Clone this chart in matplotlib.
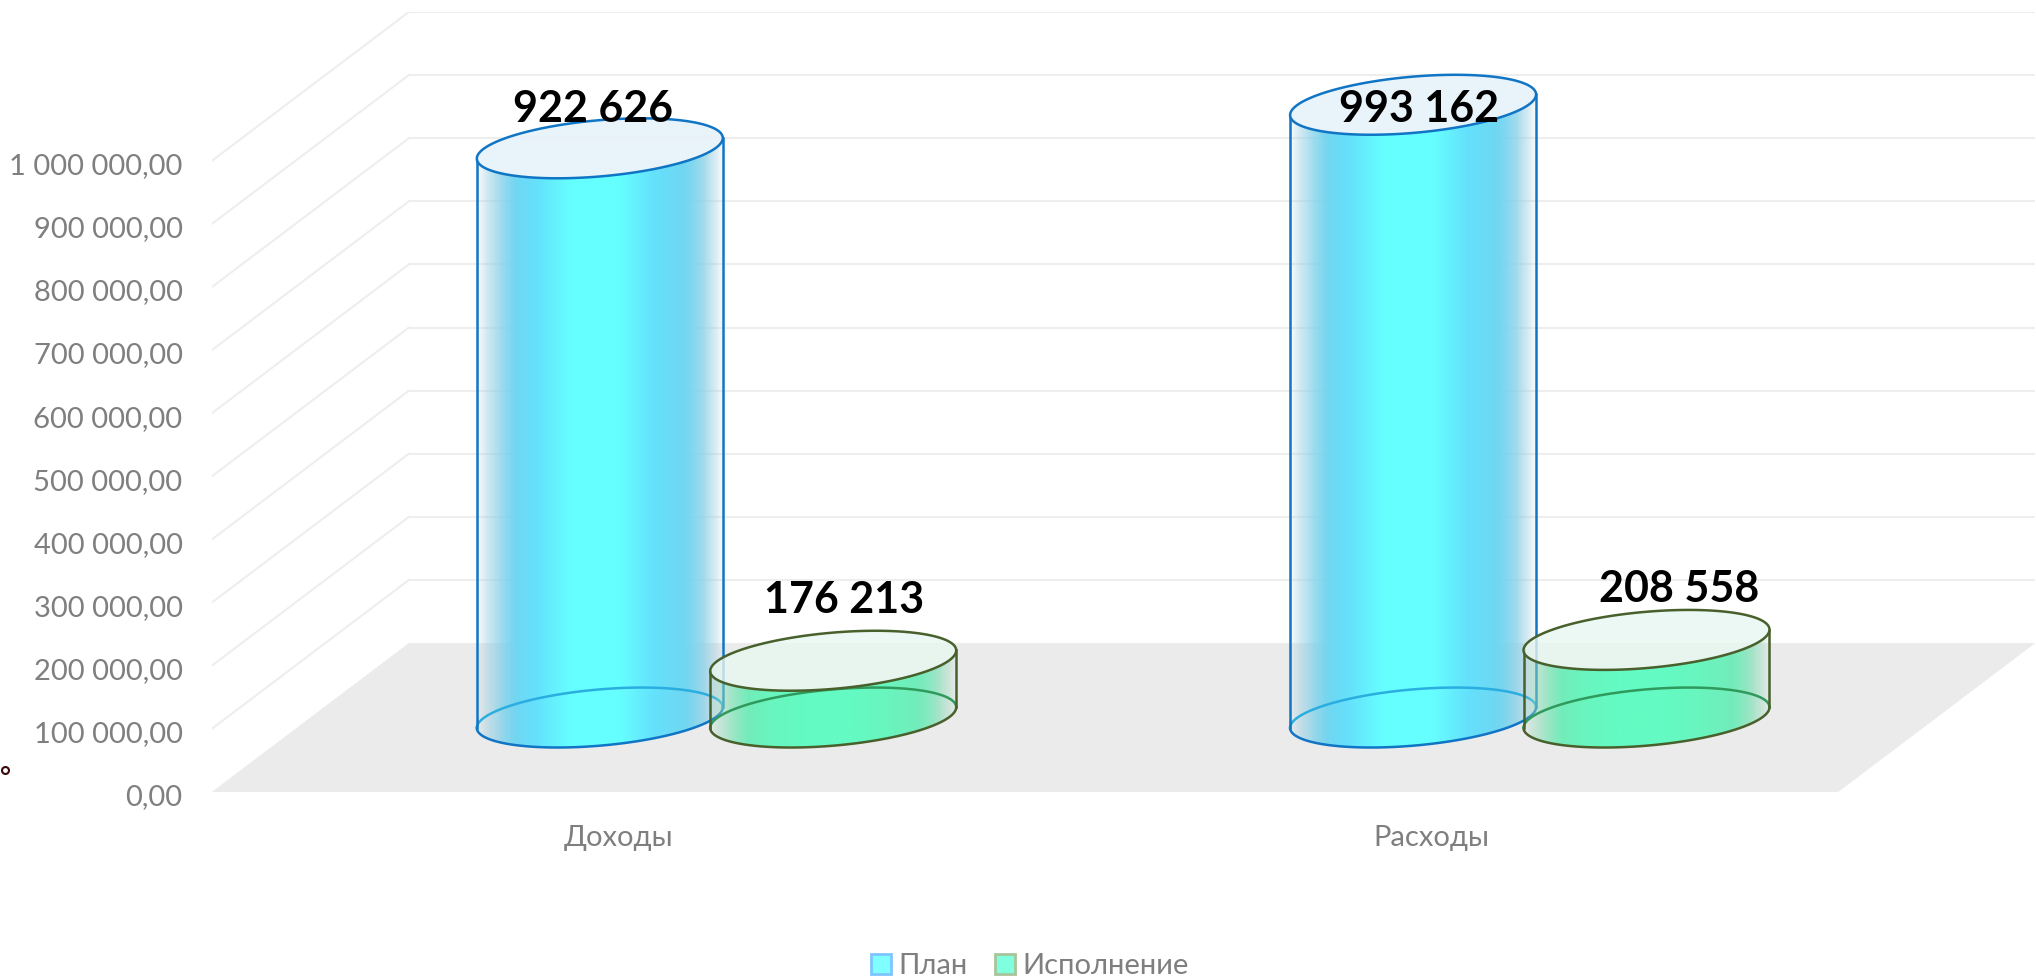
import numpy as np
import matplotlib
matplotlib.use("Agg")
import matplotlib.pyplot as plt
from matplotlib.lines import Line2D
from matplotlib.patches import Patch, Polygon
from matplotlib.transforms import ScaledTranslation

plt.rcParams['font.family'] = ['Lato', 'Open Sans', 'DejaVu Sans']

categories = ["Доходы", "Расходы"]
series_names = ["План", "Исполнение"]
# heights; the printed labels in the source differ from them
plan_values = [902000, 971000]
fact_values = [90000, 123000]
plan_labels = ["922 626", "993 162"]
fact_labels = ["176 213", "208 558"]
y_ticks = [0, 100000, 200000, 300000, 400000, 500000, 600000, 700000, 800000, 900000, 1000000]

# oblique projection of the chart box, in data units
DEPTH_X = 0.2424
DEPTH_Y = 236000
HALF_U = 0.142
HALF_VX = 0.052
HALF_VY = 47500
GRID = "#eeeeee"
TICK_COLOR = "#7f7f7f"


def ellipse_at(cx, cy, t):
    return cx + HALF_U * np.cos(t) + HALF_VX * np.sin(t), cy + HALF_VY * np.sin(t)


def side_image(colors):
    # colors: edge, flank, shoulder, centre
    edge, flank, shoulder, centre = [np.array(c) / 255 for c in colors]
    pos = np.linspace(0, 1, 300)
    stops = [0, 0.14, 0.24, 0.38, 0.58, 0.72, 0.87, 1]
    ramp = np.array([edge, flank, shoulder, centre, centre, shoulder, flank, edge])
    img = np.ones((1, 300, 4))
    for i in range(3):
        img[0, :, i] = np.interp(pos, stops, ramp[:, i])
    img[0, :, 3] = np.interp(pos, [0, 0.04, 0.1, 0.16, 0.84, 0.92, 0.97, 1],
                             [0.08, 0.45, 0.8, 1, 1, 0.8, 0.4, 0.08])
    return img


def cylinder(ax, x, value, colors, edge, back_edge, top_color, z):
    cx = x + DEPTH_X / 2
    base = DEPTH_Y / 2
    top = base + value
    half_w = np.hypot(HALF_U, HALF_VX)
    right_t = np.arctan2(HALF_VX, HALF_U)
    lower = np.linspace(right_t + np.pi, right_t + 2 * np.pi, 120)
    upper = np.linspace(right_t, right_t + np.pi, 120)

    # side of the cylinder: lower half of the top, then lower half of the base
    tx, ty = ellipse_at(cx, top, lower[::-1])
    bx, by = ellipse_at(cx, base, lower)
    body = Polygon(np.c_[np.r_[tx, bx], np.r_[ty, by]], closed=True, transform=ax.transData, fc="none", ec="none")
    ax.add_patch(body)
    im = ax.imshow(side_image(colors), extent=(cx - half_w, cx + half_w, base - HALF_VY, top + HALF_VY),
                   aspect="auto", interpolation="bilinear", zorder=z)
    im.set_clip_path(body)

    ax.plot(bx, by, color=edge, lw=1.8, zorder=z + 0.1)
    ax.plot(*ellipse_at(cx, base, upper), color=back_edge, lw=1.8, zorder=z + 0.1)
    ax.plot([bx[0], tx[-1]], [by[0], ty[-1]], color=edge, lw=1.8, zorder=z + 0.1)
    ax.plot([bx[-1], tx[0]], [by[-1], ty[0]], color=edge, lw=1.8, zorder=z + 0.1)
    ax.fill(*ellipse_at(cx, top, np.linspace(0, 2 * np.pi, 241)), fc=top_color, ec=edge, lw=1.8, zorder=z + 0.2)


fig = plt.figure(figsize=(20.36, 9.8), dpi=100)
ax = fig.add_axes([211.7 / 2036, 1 - 792 / 980, 1823.7 / 2036, 780 / 980])

# floor and walls
ax.fill([0, 2, 2 + DEPTH_X, DEPTH_X], [0, 0, DEPTH_Y, DEPTH_Y], color="#ebebeb", lw=0, zorder=1)
for v in y_ticks[1:]:
    ax.plot([0, DEPTH_X], [v, v + DEPTH_Y], color=GRID, lw=1.5, zorder=0.5)
    ax.plot([DEPTH_X, 2 + DEPTH_X], [v + DEPTH_Y, v + DEPTH_Y], color=GRID, lw=1.5, zorder=0.5)

blue = [(165, 205, 222), (115, 212, 240), (100, 225, 252), (102, 255, 255)]
green = [(165, 215, 190), (115, 235, 185), (105, 245, 190), (100, 250, 195)]

for i in range(len(categories)):
    cylinder(ax, i + 0.356, plan_values[i], blue, "#0f75c4", "#2aaee0", (0.91, 0.95, 0.98, 0.92), 3)
    cylinder(ax, i + 0.643, fact_values[i], green, "#48602c", "#2f9a5c", (0.91, 0.97, 0.94, 0.8), 4)

# labels were placed by hand in the source
label_style = dict(ha="center", va="center", fontsize=31, fontweight="bold", color="black", zorder=6)
ax.text(0.469, 1082000, plan_labels[0], **label_style)
ax.text(1.484, 1082000, plan_labels[1], **label_style)
ax.text(0.778, 305000, fact_labels[0], **label_style)
ax.text(1.804, 322000, fact_labels[1], **label_style)

ax.set_xlim(0, 2 + DEPTH_X)
ax.set_ylim(0, 1000000 + DEPTH_Y)
ax.set_xticks([0.5, 1.5], categories)
ax.set_yticks(y_ticks, [f"{v:,.2f}".replace(",", " ").replace(".", ",") for v in y_ticks])
ax.tick_params(length=0, labelsize=21, labelcolor=TICK_COLOR)
ax.tick_params(axis="y", pad=21)
ax.tick_params(axis="x", pad=24)
# source labels sit a little lower than the tick position
shift = ScaledTranslation(0, -2 / 72, fig.dpi_scale_trans)
for lab in ax.get_yticklabels():
    lab.set_transform(lab.get_transform() + shift)
for s in ax.spines.values():
    s.set_visible(False)
ax.patch.set_visible(False)

handles = [Patch(fc="#7fffff", ec="#7dc5ff", lw=2), Patch(fc="#7fffdd", ec="#a8c49a", lw=2)]
fig.legend(handles, series_names, loc="center", bbox_to_anchor=(1030 / 2036, 1 - 966 / 980), ncol=2,
           frameon=False, fontsize=21, labelcolor=TICK_COLOR, handlelength=0.68, handleheight=0.68,
           handletextpad=0.25, columnspacing=0.95, borderpad=0)

# stray ring at the left edge of the source image
fig.add_artist(Line2D([5 / 2036], [1 - 770 / 980], marker="o", ms=5, mfc="white", mec="#3a0a0a", mew=1.5,
                      transform=fig.transFigure))

fig.savefig("out.png", dpi=100)
